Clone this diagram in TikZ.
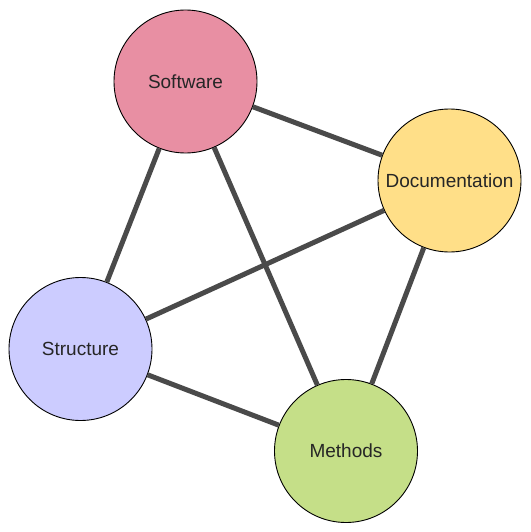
\documentclass[tikz,border=0pt]{standalone}
\usepackage{fontspec}
\setmainfont{Liberation Sans}
\usepackage{tikz}
\usetikzlibrary{arrows.meta,positioning}

\definecolor{softpink}{HTML}{E88FA3}
\definecolor{docyellow}{HTML}{FFDF88}
\definecolor{structblue}{HTML}{CCCCFF}
\definecolor{methgreen}{HTML}{C5DF88}
\definecolor{linkgray}{HTML}{4A4A4A}

\begin{document}
\begin{tikzpicture}[x=1pt, y=-1pt,
        topic/.style={circle, draw=black, line width=0.9pt, minimum size=143pt, inner sep=0pt,
            text=black!85, font=\fontsize{19}{23}\selectfont},
        link/.style={draw=linkgray, line width=5pt}]
            \useasboundingbox (0,0) rectangle (530,532);

            \node[topic, fill=softpink] (sw) at (185.5,81.5) {Software};
            \node[topic, fill=docyellow] (doc) at (449.5,180.5) {Documentation};
            \node[topic, fill=structblue] (st) at (80.5,349) {Structure};
            \node[topic, fill=methgreen] (me) at (346,451) {Methods};

            % links between every pair of topics
            \draw[link] (sw) -- (doc);
            \draw[link] (sw) -- (st);
            \draw[link] (sw) -- (me);
            \draw[link] (doc) -- (st);
            \draw[link] (doc) -- (me);
            \draw[link] (st) -- (me);
        \end{tikzpicture}
\end{document}
